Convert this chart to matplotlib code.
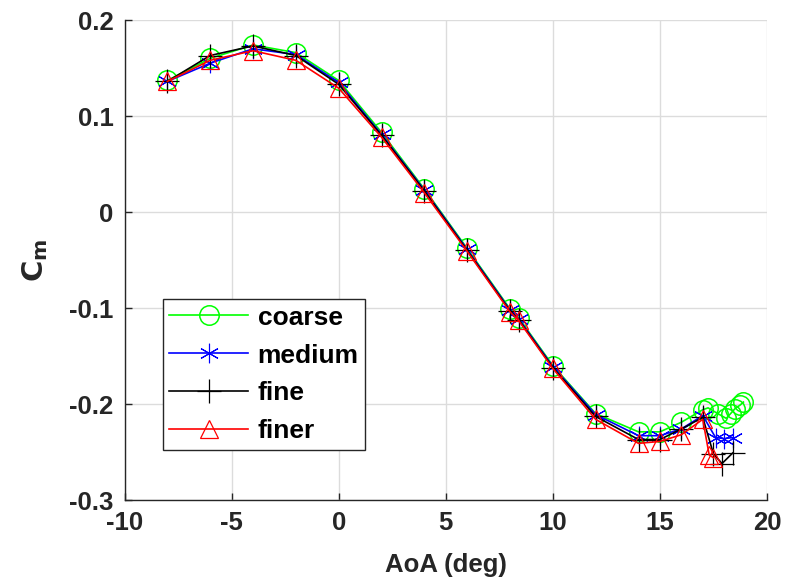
import matplotlib
matplotlib.use("Agg")
import matplotlib.pyplot as plt

plt.rcParams['font.family'] = ['Liberation Sans', 'DejaVu Sans']
plt.rcParams['font.weight'] = 'bold'

# AoA (deg) and Cm for each mesh
x_coarse = [-8, -6, -4, -2, 0, 2, 4, 6, 8, 8.4, 10, 12, 14, 15, 16, 17,
            17.25, 17.7, 18.1, 18.3, 18.5, 18.75, 18.9]
cm_coarse = [0.137, 0.160, 0.174, 0.166, 0.137, 0.083, 0.024, -0.038, -0.101,
             -0.110, -0.160, -0.210, -0.229, -0.229, -0.219, -0.206,
             -0.204, -0.210, -0.215, -0.210, -0.205, -0.201, -0.198]

x_medium = [-8, -6, -4, -2, 0, 2, 4, 6, 8, 8.4, 10, 12, 14, 15, 16, 17,
            17.6, 18.0, 18.4]
cm_medium = [0.136, 0.155, 0.170, 0.164, 0.135, 0.081, 0.023, -0.039, -0.102,
             -0.111, -0.161, -0.211, -0.233, -0.233, -0.226, -0.212,
             -0.235, -0.236, -0.235]

x_fine = [-8, -6, -4, -2, 0, 2, 4, 6, 8, 8.4, 10, 12, 14, 15, 16, 17,
          17.5, 17.9, 18.4]
cm_fine = [0.136, 0.163, 0.173, 0.163, 0.133, 0.080, 0.022, -0.040, -0.103,
           -0.112, -0.162, -0.213, -0.237, -0.237, -0.226, -0.214,
           -0.252, -0.262, -0.251]

x_finer = [-8, -6, -4, -2, 0, 2, 4, 6, 8, 8.4, 10, 12, 14, 15, 16, 17,
           17.3, 17.5]
cm_finer = [0.136, 0.158, 0.168, 0.158, 0.129, 0.078, 0.020, -0.041, -0.104,
            -0.113, -0.163, -0.216, -0.241, -0.239, -0.232, -0.216,
            -0.253, -0.256]

labels = ['coarse', 'medium', 'fine', 'finer']
x_ticks = [-10, -5, 0, 5, 10, 15, 20]
y_ticks = [-0.3, -0.2, -0.1, 0, 0.1, 0.2]
y_ticklabels = ['-0.3', '-0.2', '-0.1', '0', '0.1', '0.2']

fig = plt.figure(figsize=(7.87, 5.80), dpi=100)
ax = fig.add_axes([124.5 / 787, 1 - 500 / 580, (767 - 124.5) / 787, 480 / 580])

lw = 1.2
ax.plot(x_coarse, cm_coarse, color='#00ff00', lw=lw, marker='o', ms=14,
        mfc='none', mec='#00ff00', mew=1.1, label=labels[0])
ax.plot(x_medium, cm_medium, color='#0000ff', lw=lw, marker=(6, 2, 0), ms=14,
        mec='#0000ff', mew=0.8, label=labels[1])
ax.plot(x_fine, cm_fine, color='black', lw=lw, marker='+', ms=17,
        mec='black', mew=0.9, label=labels[2])
ax.plot(x_finer, cm_finer, color='#ff0000', lw=lw, marker='^', ms=13,
        mfc='none', mec='#ff0000', mew=0.9, label=labels[3])

ax.set_xlim(-10, 20)
ax.set_ylim(-0.3, 0.2)
ax.set_xticks(x_ticks)
ax.set_xticklabels([str(v) for v in x_ticks])
ax.set_yticks(y_ticks)
ax.set_yticklabels(y_ticklabels)
ax.grid(True, color='#dcdcdc', lw=1.0)
ax.set_axisbelow(True)
for s in ['top', 'right']:
    ax.spines[s].set_visible(False)
for s in ['left', 'bottom']:
    ax.spines[s].set_color('#262626')
    ax.spines[s].set_linewidth(1.0)
ax.tick_params(direction='in', length=5, width=1, colors='#262626',
               labelsize=18.5, labelcolor='#262626', pad=8)
for t in ax.get_xticklabels() + ax.get_yticklabels():
    t.set_fontweight('bold')

ax.set_xlabel('AoA (deg)', fontsize=18.5, fontweight='bold', color='#262626', labelpad=13)
ax.set_ylabel(r'$\mathbf{C_m}$', fontsize=21, color='#262626', labelpad=14)

leg = ax.legend(loc='lower left', bbox_to_anchor=(0.0595, 0.104), borderaxespad=0,
                handlelength=3.0, handletextpad=0.35, labelspacing=0.53,
                borderpad=0.25, fancybox=False, framealpha=1, edgecolor='#262626',
                prop={'weight': 'bold', 'size': 19})
leg.get_frame().set_linewidth(1.0)

fig.savefig('out.png', dpi=100)
